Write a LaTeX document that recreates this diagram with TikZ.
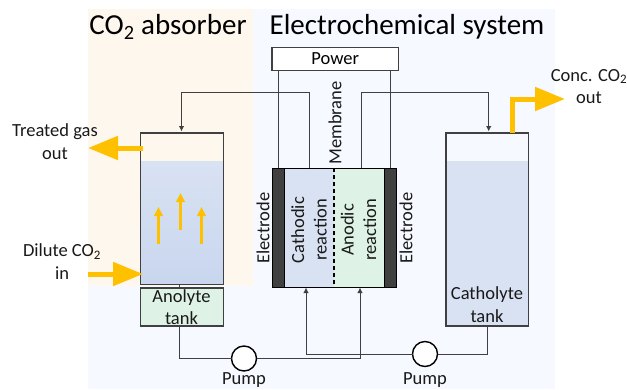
\documentclass[tikz,border=0pt]{standalone}
\usepackage{fontspec}
\setmainfont{Carlito}
\usetikzlibrary{arrows.meta,calc}
\definecolor{absbg}{HTML}{FEF7EE}
\definecolor{echembg}{HTML}{F6F9FF}
\definecolor{liquid}{HTML}{D9E2F3}
\definecolor{liquidlow}{HTML}{C8D6EE}
\definecolor{mint}{HTML}{DEF2E6}
\definecolor{gold}{HTML}{FFC000}
\definecolor{edge}{HTML}{404040}
\tikzset{
 px/.style={x=1pt,y=-1pt},
 vessel/.style={draw=edge,line width=1.1pt,inner sep=0pt,outer sep=0pt,anchor=north west},
 fillbox/.style={inner sep=0pt,outer sep=0pt,anchor=north west},
 pumpnode/.style={circle,draw=black,fill=white,line width=1.4pt,minimum size=25pt,inner sep=0pt,outer sep=0pt},
 pipe/.style={draw=edge,line width=1pt},
 feed/.style={pipe,-{Latex[length=5.5pt,width=5.5pt]}},
 gasarrow/.style={draw=gold,line width=5pt,-{Triangle[length=30pt,width=23pt,fill=gold]}},
 bubble/.style={draw=gold,line width=2.4pt,-{Triangle[length=9pt,width=8.5pt,fill=gold]}},
 title/.style={font=\fontsize{29}{32}\selectfont,text=black,inner sep=0pt},
 lab/.style={font=\fontsize{18.5}{22.5}\selectfont,text=black!90,align=center,inner sep=0pt},
}
\begin{document}
\begin{tikzpicture}[px]
\useasboundingbox (0,0) rectangle (627,389);
% backgrounds
\fill[echembg] (88,286) rectangle (555,389);
\fill[echembg] (253,9) rectangle (555,286);
\fill[absbg] (88,9) rectangle (253,286);
% vessels
\node[fillbox,minimum width=82pt,minimum height=123.5pt,top color=liquid,bottom color=liquidlow] (absliq) at (141,161) {};
\node[vessel,minimum width=82.5pt,minimum height=151.5pt] (absorber) at (140.7,133) {};
\node[vessel,fill=mint,minimum width=82.5pt,minimum height=38pt] (anolyte) at (140.7,288) {};
\node[fillbox,fill=liquid,minimum width=82pt,minimum height=165pt] (catliq) at (446,161) {};
\node[vessel,minimum width=82.5pt,minimum height=193pt] (catholyte) at (446,133) {};
% stack
\node[fillbox,fill=liquid,minimum width=50pt,minimum height=119pt] (cath) at (284,168) {};
\node[fillbox,fill=mint,minimum width=50pt,minimum height=119pt] (anod) at (334,168) {};
\node[fillbox,fill=edge,draw=black,line width=.8pt,minimum width=12pt,minimum height=119pt] (eleft) at (272,168) {};
\node[fillbox,fill=edge,draw=black,line width=.8pt,minimum width=12pt,minimum height=119pt] (eright) at (384,168) {};
\draw[black,line width=.9pt] (eleft.north east) -- (eright.north west);
\draw[black,line width=.9pt] (eleft.south east) -- (eright.south west);
\draw[black,line width=1.3pt,dash pattern=on 4pt off 3pt] (cath.north east) -- (cath.south east);
% power
\node[vessel,fill=white,minimum width=126.5pt,minimum height=23pt,font=\fontsize{18.5}{20}\selectfont] (power) at (272,47.5) {Power};
% pumps
\node[pumpnode] (pumpA) at (244,358.5) {};
\node[pumpnode] (pumpB) at (425,354) {};
% coordinates
\coordinate (pl) at (278,168);
\coordinate (pr) at (390,168);
\coordinate (rl) at (309,168);
\coordinate (rr) at (361,168);
\coordinate (fl) at (306,287.5);
\coordinate (fr) at (360,287.5);
% connectors
\draw[pipe] (pl |- power.south) -- (pl);
\draw[pipe] (pr |- power.south) -- (pr);
\draw[feed] (rl) -- (309,92.5) -- (181.5,92.5) -- (181.5,131.5);
\draw[feed] (rr) -- (361,92.5) -- (488.7,92.5) -- (488.7,131.5);
\draw[pipe] (179.5,284.5) -- (179.5,288);
\draw[pipe] (179.5,326) -- (179.5,358.5) -- (pumpA.west);
\draw[feed] (pumpA.east) -- (360,358.5) -- (fr);
\draw[feed] (pumpB.west) -- (306,354) -- (fl);
\draw[pipe] (pumpB.east) -- (487,354) -- (487,326);
% gas arrows
\coordinate (treatedEnd) at (88,148);
\coordinate (diluteStart) at (88,274);
\coordinate (concEnd) at (565,99);
\draw[gasarrow] (143,148) -- (treatedEnd);
\draw[gasarrow] (diluteStart) -- (143,274);
\draw[gasarrow] (512,133) -- (512,99) -- (concEnd);
\draw[bubble] (158.5,244) -- (158.5,207);
\draw[bubble] (180.5,230) -- (180.5,193);
\draw[bubble] (201.5,244) -- (201.5,207);
% text
\node[title] (t1) at (168,27) {CO\textsubscript{2} absorber};
\node[title] (t2) at (407,27) {Electrochemical system};
\node[lab] (tg) at (55,141.5) {Treated gas\\out};
\node[lab] (dc) at (62,261.5) {Dilute CO\textsubscript{2}\\in};
\node[lab] (cc) at (589,86.5) {Conc. CO\textsubscript{2}\\out};
\node[lab] (at) at (181.5,307) {Anolyte\\tank};
\node[lab] (ct) at (487,304.5) {Catholyte\\tank};
\node[lab] (pa) at (244,380.5) {Pump};
\node[lab] (pb) at (425,380.5) {Pump};
\node[lab,rotate=90] (e1) at (263,228) {Electrode};
\node[lab,rotate=90] (e2) at (406,228) {Electrode};
\node[lab,rotate=90] (cr) at (309,230) {Cathodic\\reaction};
\node[lab,rotate=90] (ar) at (358.5,230) {Anodic\\reaction};
\node[lab,rotate=90] (mb) at (335,123) {Membrane};
\end{tikzpicture}
\end{document}
